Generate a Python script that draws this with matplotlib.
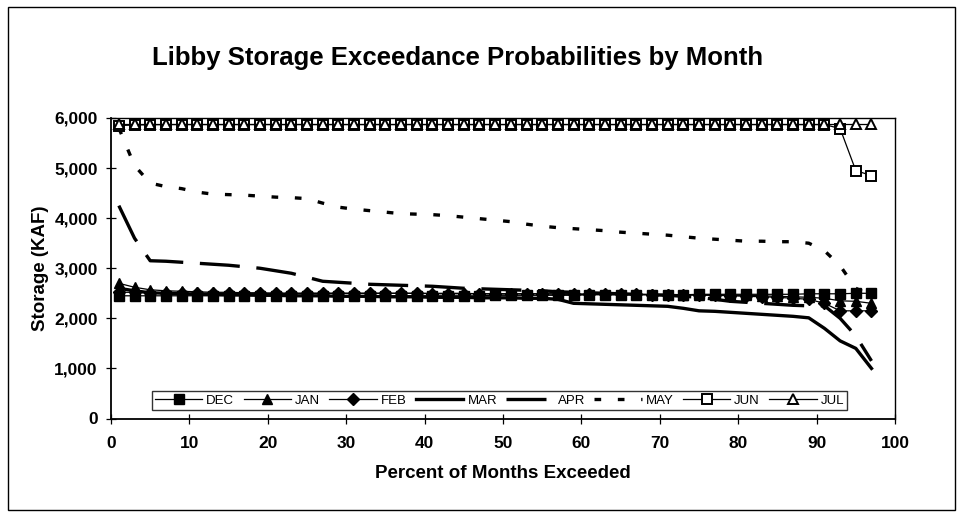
import matplotlib
matplotlib.use("Agg")
import matplotlib.pyplot as plt
from matplotlib.patches import Rectangle

plt.rcParams["font.family"] = ["Liberation Sans", "DejaVu Sans"]

# ── Data ─────────────────────────────────────────────────────────────────────
pct = list(range(1, 98, 2))  # percent of months exceeded

dec = [2450, 2450, 2450, 2450, 2450, 2450, 2450, 2450, 2450, 2450,
       2450, 2450, 2450, 2450, 2450, 2450, 2450, 2450, 2450, 2450,
       2450, 2450, 2450, 2450, 2460, 2460, 2460, 2460, 2460, 2460,
       2470, 2470, 2470, 2470, 2470, 2470, 2470, 2480, 2480, 2480,
       2480, 2480, 2480, 2480, 2490, 2490, 2490, 2500, 2500]
jan = [2700, 2620, 2570, 2550, 2540, 2530, 2520, 2520, 2510, 2510,
       2500, 2500, 2500, 2500, 2500, 2500, 2500, 2500, 2500, 2500,
       2500, 2500, 2500, 2490, 2490, 2490, 2490, 2490, 2490, 2490,
       2480, 2480, 2480, 2480, 2480, 2480, 2470, 2470, 2470, 2460,
       2460, 2450, 2440, 2430, 2420, 2400, 2350, 2340, 2300]
feb = [2520, 2520, 2510, 2510, 2510, 2500, 2500, 2500, 2500, 2500,
       2500, 2500, 2500, 2500, 2500, 2500, 2500, 2500, 2500, 2500,
       2490, 2490, 2490, 2490, 2490, 2490, 2490, 2490, 2480, 2480,
       2480, 2480, 2480, 2480, 2470, 2470, 2470, 2460, 2460, 2450,
       2440, 2430, 2420, 2400, 2380, 2300, 2150, 2150, 2150]
mar = [2600, 2550, 2510, 2500, 2490, 2480, 2480, 2470, 2470, 2460,
       2460, 2450, 2450, 2450, 2440, 2440, 2440, 2430, 2430, 2430,
       2420, 2420, 2420, 2410, 2410, 2410, 2400, 2400, 2380, 2300,
       2290, 2280, 2270, 2260, 2250, 2240, 2200, 2150, 2140, 2120,
       2100, 2080, 2060, 2040, 2010, 1800, 1550, 1400, 1000]
apr = [4250, 3600, 3150, 3140, 3120, 3100, 3080, 3060, 3030, 3000,
       2950, 2900, 2820, 2740, 2720, 2700, 2680, 2670, 2660, 2650,
       2640, 2620, 2600, 2590, 2580, 2570, 2560, 2550, 2530, 2520,
       2510, 2500, 2490, 2480, 2470, 2460, 2440, 2420, 2380, 2340,
       2320, 2300, 2280, 2260, 2250, 2250, 2000, 1650, 1150]
may = [5800, 5050, 4700, 4630, 4590, 4520, 4480, 4470, 4460, 4440,
       4420, 4410, 4390, 4300, 4220, 4180, 4150, 4120, 4090, 4080,
       4070, 4050, 4020, 3990, 3960, 3930, 3880, 3840, 3810, 3790,
       3770, 3750, 3720, 3700, 3680, 3660, 3630, 3600, 3580, 3560,
       3540, 3540, 3530, 3530, 3500, 3350, 3050, 2600, 2450]
jun = [5850, 5860, 5865, 5869, 5869, 5869, 5869, 5869, 5869, 5869,
       5869, 5869, 5869, 5869, 5869, 5869, 5869, 5869, 5869, 5869,
       5869, 5869, 5869, 5869, 5869, 5869, 5869, 5869, 5869, 5869,
       5869, 5869, 5869, 5869, 5869, 5869, 5869, 5869, 5869, 5869,
       5869, 5869, 5869, 5869, 5869, 5869, 5790, 4950, 4850]
jul = [5880] * len(pct)

yticks = [0, 1000, 2000, 3000, 4000, 5000, 6000]
xticks = [0, 10, 20, 30, 40, 50, 60, 70, 80, 90, 100]

# ── Figure ───────────────────────────────────────────────────────────────────
W, H = 964, 516
fig = plt.figure(figsize=(W / 100, H / 100), dpi=100)
fig.patch.set_facecolor("white")

# outer frame around the whole chart
fig.add_artist(Rectangle((8 / W, 1 - 510 / H), 947 / W, 503 / H,
                         transform=fig.transFigure, fill=False,
                         edgecolor="black", linewidth=1.0))

ax = fig.add_axes([111 / W, 1 - 418.5 / H, 784 / W, 300.5 / H])

mk = dict(markersize=7, markeredgecolor="black")
ax.plot(pct, dec, color="black", lw=0.9, marker="s", markerfacecolor="black", label="DEC", **mk)
ax.plot(pct, jan, color="black", lw=0.9, marker="^", markerfacecolor="black", label="JAN", **mk)
ax.plot(pct, feb, color="black", lw=0.9, marker="D", markerfacecolor="black",
        markersize=6, markeredgecolor="black", label="FEB")
ax.plot(pct, mar, color="black", lw=2.4, label="MAR")
ax.plot(pct, apr, color="black", lw=2.4, dashes=(12, 5), label="APR")
ax.plot(pct, may, color="black", lw=2.4, dashes=(2, 5), label="MAY")
ax.plot(pct, jun, color="black", lw=0.9, marker="s", markerfacecolor="white",
        markeredgewidth=1.4, label="JUN", **mk)
ax.plot(pct, jul, color="black", lw=0.9, marker="^", markerfacecolor="white",
        markeredgewidth=1.4, label="JUL", **mk)

ax.set_xlim(0, 100)
ax.set_ylim(0, 6000)
ax.set_xticks(xticks)
ax.set_yticks(yticks)
ax.set_yticklabels([f"{v:,}" for v in yticks])
ax.tick_params(axis="both", direction="inout", length=7, width=0.9,
               labelsize=12.5, colors="black")
ax.tick_params(axis="x", pad=9)
ax.tick_params(axis="y", pad=6)
for lab in ax.get_xticklabels() + ax.get_yticklabels():
    lab.set_fontweight("bold")

for s in ["left", "bottom"]:
    ax.spines[s].set_linewidth(1.3)
for s in ["top", "right"]:
    ax.spines[s].set_linewidth(1.0)
    ax.spines[s].set_linestyle((0, (1, 1)))

ax.set_xlabel("Percent of Months Exceeded", fontsize=13.5, fontweight="bold", labelpad=10)
ax.set_ylabel("Storage (KAF)", fontsize=13.5, fontweight="bold", labelpad=4)

fig.text(458 / W, 1 - 58 / H, "Libby Storage Exceedance Probabilities by Month",
         ha="center", va="center", fontsize=18.5, fontweight="bold")

leg = ax.legend(loc="lower left", bbox_to_anchor=(41 / 784, 9 / 300.5),
                ncol=8, fontsize=9.5, frameon=True, fancybox=False,
                edgecolor="black", handlelength=3.6, handletextpad=0.3,
                columnspacing=0.7, borderpad=0.22, borderaxespad=0)
leg.get_frame().set_linewidth(1.0)

fig.savefig("out.png", dpi=100, facecolor="white")
